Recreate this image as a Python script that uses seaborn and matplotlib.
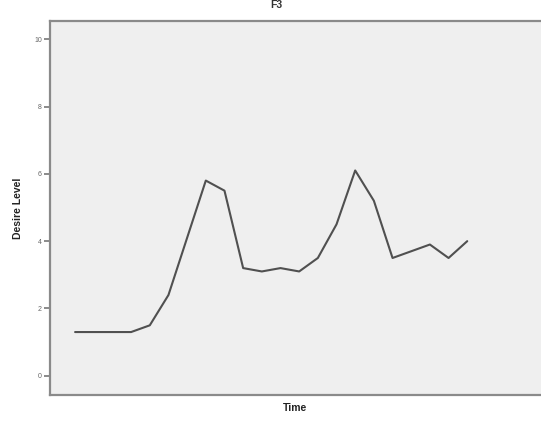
import matplotlib
matplotlib.use("Agg")
import matplotlib.pyplot as plt
import seaborn as sns
import pandas as pd

time_index = list(range(22))
desire_level = [1.3, 1.3, 1.3, 1.3, 1.5, 2.4, 4.1, 5.8, 5.5, 3.2, 3.1,
                3.2, 3.1, 3.5, 4.5, 6.1, 5.2, 3.5, 3.7, 3.9, 3.5, 4.0]
y_ticks = [0, 2, 4, 6, 8, 10]
title_text = "F3"
x_label = "Time"
y_label = "Desire Level"

df = pd.DataFrame({"Time": time_index, "Desire Level": desire_level})

sns.set_style("white")
plt.rcParams['font.family'] = ['Liberation Sans', 'DejaVu Sans']

W, H = 541, 421
fig = plt.figure(figsize=(W / 100, H / 100), dpi=100)
ax = fig.add_axes([49.5 / W, (H - 395) / H, (541 - 49.5) / W, (395 - 21) / H])
ax.set_facecolor("#efefef")

sns.lineplot(data=df, x="Time", y="Desire Level", ax=ax, color="#505050",
             linewidth=1.5)

ax.set_xlim(-1.37, 24.95)
ax.set_ylim(-0.57, 10.54)
ax.set_yticks(y_ticks)
ax.set_yticklabels([str(t) for t in y_ticks], fontsize=5, color="#666666")
ax.set_xticks([])
ax.tick_params(axis="y", length=4, width=1.2, color="#777777", pad=1.5, left=True)

for side in ["left", "bottom", "top"]:
    ax.spines[side].set_color("#8a8a8a")
    ax.spines[side].set_linewidth(1.6)
ax.spines["right"].set_visible(False)

ax.set_xlabel(x_label, fontsize=7.5, fontweight="bold", color="#222222", labelpad=6)
ax.set_ylabel(y_label, fontsize=7.5, fontweight="bold", color="#222222", labelpad=8)
fig.text(276 / W, 1 - 5.5 / H, title_text, ha="center", va="center",
         fontsize=7.5, fontweight="bold", color="#333333")

fig.savefig("out.png", dpi=100, facecolor="white")
